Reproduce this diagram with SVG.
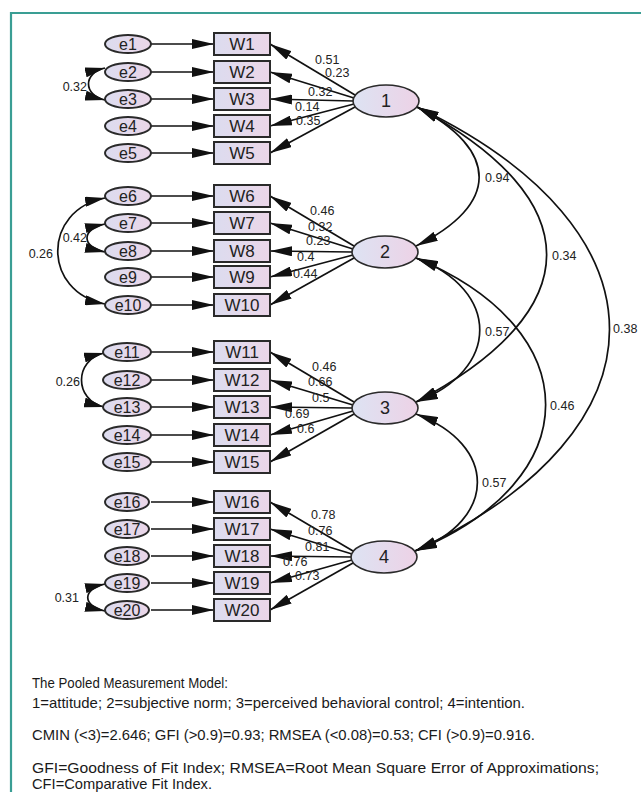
<svg xmlns="http://www.w3.org/2000/svg" width="641" height="792" viewBox="0 0 641 792">
<defs>
<linearGradient id="gBox" x1="0" y1="0" x2="1" y2="0"><stop offset="0" stop-color="#dcdcef"/><stop offset="1" stop-color="#ebd6e8"/></linearGradient>
<linearGradient id="gLat" x1="0" y1="0" x2="1" y2="0"><stop offset="0" stop-color="#dde3f3"/><stop offset="1" stop-color="#edd2e6"/></linearGradient>
<marker id="ah" markerUnits="userSpaceOnUse" markerWidth="22" markerHeight="10" viewBox="0 0 22 10" refX="22" refY="5" orient="auto-start-reverse"><path d="M0,0 L22,5 L0,10 z" fill="#111"/></marker>
<marker id="as" markerUnits="userSpaceOnUse" markerWidth="20" markerHeight="10" viewBox="0 0 20 10" refX="20" refY="5" orient="auto-start-reverse"><path d="M0,0 L20,5 L0,10 z" fill="#111"/></marker>
</defs>
<style>
.box{fill:url(#gBox);stroke:#2a2a2a;stroke-width:2}
.err{fill:url(#gBox);stroke:#2a2a2a;stroke-width:2}
.lat{fill:url(#gLat);stroke:#2a2a2a;stroke-width:1.6}
.bt{font-family:'Liberation Sans',Arial,sans-serif;font-size:17px;fill:#222;text-anchor:middle}
.et{font-family:'Liberation Sans',Arial,sans-serif;font-size:16px;fill:#222;text-anchor:middle}
.lt{font-family:'Liberation Sans',Arial,sans-serif;font-size:18px;fill:#222;text-anchor:middle}
.n{font-family:'Liberation Sans',Arial,sans-serif;font-size:12.5px;fill:#222}
.ne{font-family:'Liberation Sans',Arial,sans-serif;font-size:12.5px;fill:#222;text-anchor:end}
.cap{font-family:'Liberation Sans',Arial,sans-serif;font-size:14.5px;fill:#1a1a1a}
.c{fill:none;stroke:#111;stroke-width:1.7}
.ea{marker-end:url(#ah)}
.bb{marker-start:url(#as);marker-end:url(#as)}
.bl{marker-start:url(#ah);marker-end:url(#ah)}
</style>
<rect x="0" y="0" width="641" height="792" fill="#fff"/>
<path d="M11,792 L11,13 L641,13" fill="none" stroke="#3a9e94" stroke-width="2.2"/>

<g id="connectors">
<path class="c ea" d="M151,44 L214,44"/>
<path class="c ea" d="M151,72 L214,72"/>
<path class="c ea" d="M151,99 L214,99"/>
<path class="c ea" d="M151,126 L214,126"/>
<path class="c ea" d="M151,153 L214,153"/>
<path class="c ea" d="M151,196 L214,196"/>
<path class="c ea" d="M151,223 L214,223"/>
<path class="c ea" d="M151,251 L214,251"/>
<path class="c ea" d="M151,277 L214,277"/>
<path class="c ea" d="M151,305 L214,305"/>
<path class="c ea" d="M151,352 L214,352"/>
<path class="c ea" d="M151,380 L214,380"/>
<path class="c ea" d="M151,407 L214,407"/>
<path class="c ea" d="M151,435 L214,435"/>
<path class="c ea" d="M151,462 L214,462"/>
<path class="c ea" d="M151,502 L214,502"/>
<path class="c ea" d="M151,529 L214,529"/>
<path class="c ea" d="M151,556 L214,556"/>
<path class="c ea" d="M151,583 L214,583"/>
<path class="c ea" d="M151,610 L214,610"/>
<path class="c ea" d="M355,95 L270,44"/>
<path class="c ea" d="M354,98 L270,72"/>
<path class="c ea" d="M353,101 L270,99"/>
<path class="c ea" d="M354,104 L270,126"/>
<path class="c ea" d="M355,107 L270,153"/>
<path class="c ea" d="M354,246 L270,196"/>
<path class="c ea" d="M353,249 L270,223"/>
<path class="c ea" d="M352,252 L270,251"/>
<path class="c ea" d="M353,255 L270,277"/>
<path class="c ea" d="M354,258 L270,305"/>
<path class="c ea" d="M354,402 L270,352"/>
<path class="c ea" d="M353,405 L270,380"/>
<path class="c ea" d="M352,408 L270,407"/>
<path class="c ea" d="M353,411 L270,435"/>
<path class="c ea" d="M354,414 L270,462"/>
<path class="c ea" d="M353,551 L270,502"/>
<path class="c ea" d="M352,554 L270,529"/>
<path class="c ea" d="M351,557 L270,556"/>
<path class="c ea" d="M352,560 L270,583"/>
<path class="c ea" d="M353,563 L270,610"/>
<path class="c bb" d="M105,68 C83,73 83,95 105,100"/>
<path class="c bb" d="M105,224 C81,229 81,247 105,252"/>
<path class="c bb" d="M105,198 C42,210 42,292 105,304"/>
<path class="c bb" d="M104,353 C74,360 74,400 104,407"/>
<path class="c bb" d="M105,584 C82,589 82,606 105,611"/>
<path class="c bl" d="M417,107 C500,150 500,205 416,246"/>
<path class="c bl" d="M417,107 C590,200 590,310 416,402"/>
<path class="c bl" d="M417,107 C674,230 674,430 415,551"/>
<path class="c bl" d="M416,258 C501,290 501,370 416,402"/>
<path class="c bl" d="M416,258 C589,330 589,480 415,551"/>
<path class="c bl" d="M416,414 C498,445 498,520 415,551"/>
</g>

<g id="labels">
<text class="n" x="315" y="64">0.51</text>
<text class="n" x="325" y="77">0.23</text>
<text class="n" x="308" y="96">0.32</text>
<text class="n" x="295" y="111">0.14</text>
<text class="n" x="296" y="125">0.35</text>
<text class="n" x="310" y="215">0.46</text>
<text class="n" x="308" y="231">0.32</text>
<text class="n" x="306" y="245">0.23</text>
<text class="n" x="297" y="261">0.4</text>
<text class="n" x="293" y="278">0.44</text>
<text class="n" x="312" y="371">0.46</text>
<text class="n" x="308" y="386">0.66</text>
<text class="n" x="312" y="402">0.5</text>
<text class="n" x="285" y="418">0.69</text>
<text class="n" x="297" y="433">0.6</text>
<text class="n" x="311" y="519">0.78</text>
<text class="n" x="308" y="535">0.76</text>
<text class="n" x="305" y="551">0.81</text>
<text class="n" x="283" y="566">0.76</text>
<text class="n" x="295" y="580">0.73</text>
<text class="n" x="485" y="182">0.94</text>
<text class="n" x="552" y="260">0.34</text>
<text class="n" x="613" y="333">0.38</text>
<text class="n" x="485" y="336">0.57</text>
<text class="n" x="550" y="410">0.46</text>
<text class="n" x="482" y="487">0.57</text>
<text class="ne" x="87" y="91">0.32</text>
<text class="ne" x="87" y="242">0.42</text>
<text class="ne" x="53" y="258">0.26</text>
<text class="ne" x="80" y="386">0.26</text>
<text class="ne" x="79" y="602">0.31</text>
</g>

<g id="e1"><ellipse class="err" cx="128" cy="44" rx="23" ry="9"/><text class="et" x="128" y="50">e1</text></g>
<g id="e2"><ellipse class="err" cx="128" cy="72" rx="23" ry="9"/><text class="et" x="128" y="78">e2</text></g>
<g id="e3"><ellipse class="err" cx="128" cy="99" rx="23" ry="9"/><text class="et" x="128" y="105">e3</text></g>
<g id="e4"><ellipse class="err" cx="128" cy="126" rx="23" ry="9"/><text class="et" x="128" y="132">e4</text></g>
<g id="e5"><ellipse class="err" cx="128" cy="153" rx="23" ry="9"/><text class="et" x="128" y="159">e5</text></g>
<g id="e6"><ellipse class="err" cx="128" cy="196" rx="23" ry="9"/><text class="et" x="128" y="202">e6</text></g>
<g id="e7"><ellipse class="err" cx="128" cy="223" rx="23" ry="9"/><text class="et" x="128" y="229">e7</text></g>
<g id="e8"><ellipse class="err" cx="128" cy="251" rx="23" ry="9"/><text class="et" x="128" y="257">e8</text></g>
<g id="e9"><ellipse class="err" cx="128" cy="277" rx="23" ry="9"/><text class="et" x="128" y="283">e9</text></g>
<g id="e10"><ellipse class="err" cx="128" cy="305" rx="23" ry="9"/><text class="et" x="128" y="311">e10</text></g>
<g id="e11"><ellipse class="err" cx="127" cy="352" rx="24" ry="9"/><text class="et" x="127" y="358">e11</text></g>
<g id="e12"><ellipse class="err" cx="127" cy="380" rx="24" ry="9"/><text class="et" x="127" y="386">e12</text></g>
<g id="e13"><ellipse class="err" cx="127" cy="407" rx="24" ry="9"/><text class="et" x="127" y="413">e13</text></g>
<g id="e14"><ellipse class="err" cx="127" cy="435" rx="24" ry="9"/><text class="et" x="127" y="441">e14</text></g>
<g id="e15"><ellipse class="err" cx="127" cy="462" rx="24" ry="9"/><text class="et" x="127" y="468">e15</text></g>
<g id="e16"><ellipse class="err" cx="127" cy="502" rx="22" ry="9"/><text class="et" x="127" y="508">e16</text></g>
<g id="e17"><ellipse class="err" cx="127" cy="529" rx="22" ry="9"/><text class="et" x="127" y="535">e17</text></g>
<g id="e18"><ellipse class="err" cx="127" cy="556" rx="22" ry="9"/><text class="et" x="127" y="562">e18</text></g>
<g id="e19"><ellipse class="err" cx="127" cy="583" rx="22" ry="9"/><text class="et" x="127" y="589">e19</text></g>
<g id="e20"><ellipse class="err" cx="127" cy="610" rx="22" ry="9"/><text class="et" x="127" y="616">e20</text></g>

<g id="W1"><rect class="box" x="214" y="33" width="56" height="22"/><text class="bt" x="242" y="50">W1</text></g>
<g id="W2"><rect class="box" x="214" y="61" width="56" height="22"/><text class="bt" x="242" y="78">W2</text></g>
<g id="W3"><rect class="box" x="214" y="88" width="56" height="22"/><text class="bt" x="242" y="105">W3</text></g>
<g id="W4"><rect class="box" x="214" y="115" width="56" height="22"/><text class="bt" x="242" y="132">W4</text></g>
<g id="W5"><rect class="box" x="214" y="142" width="56" height="22"/><text class="bt" x="242" y="159">W5</text></g>
<g id="W6"><rect class="box" x="214" y="185" width="56" height="22"/><text class="bt" x="242" y="202">W6</text></g>
<g id="W7"><rect class="box" x="214" y="212" width="56" height="22"/><text class="bt" x="242" y="229">W7</text></g>
<g id="W8"><rect class="box" x="214" y="240" width="56" height="22"/><text class="bt" x="242" y="257">W8</text></g>
<g id="W9"><rect class="box" x="214" y="266" width="56" height="22"/><text class="bt" x="242" y="283">W9</text></g>
<g id="W10"><rect class="box" x="214" y="294" width="56" height="22"/><text class="bt" x="242" y="311">W10</text></g>
<g id="W11"><rect class="box" x="214" y="341" width="56" height="22"/><text class="bt" x="242" y="358">W11</text></g>
<g id="W12"><rect class="box" x="214" y="369" width="56" height="22"/><text class="bt" x="242" y="386">W12</text></g>
<g id="W13"><rect class="box" x="214" y="396" width="56" height="22"/><text class="bt" x="242" y="413">W13</text></g>
<g id="W14"><rect class="box" x="214" y="424" width="56" height="22"/><text class="bt" x="242" y="441">W14</text></g>
<g id="W15"><rect class="box" x="214" y="451" width="56" height="22"/><text class="bt" x="242" y="468">W15</text></g>
<g id="W16"><rect class="box" x="214" y="491" width="56" height="22"/><text class="bt" x="242" y="508">W16</text></g>
<g id="W17"><rect class="box" x="214" y="518" width="56" height="22"/><text class="bt" x="242" y="535">W17</text></g>
<g id="W18"><rect class="box" x="214" y="545" width="56" height="22"/><text class="bt" x="242" y="562">W18</text></g>
<g id="W19"><rect class="box" x="214" y="572" width="56" height="22"/><text class="bt" x="242" y="589">W19</text></g>
<g id="W20"><rect class="box" x="214" y="599" width="56" height="22"/><text class="bt" x="242" y="616">W20</text></g>

<g id="F1"><ellipse class="lat" cx="386" cy="101" rx="33" ry="16"/><text class="lt" x="386" y="107">1</text></g>
<g id="F2"><ellipse class="lat" cx="385" cy="252" rx="33" ry="16"/><text class="lt" x="385" y="258">2</text></g>
<g id="F3"><ellipse class="lat" cx="385" cy="408" rx="33" ry="16"/><text class="lt" x="385" y="414">3</text></g>
<g id="F4"><ellipse class="lat" cx="384" cy="557" rx="33" ry="16"/><text class="lt" x="384" y="563">4</text></g>

<g id="caption">
<text class="cap" x="32" y="688" textLength="196" lengthAdjust="spacingAndGlyphs">The Pooled Measurement Model:</text>
<text class="cap" x="32" y="708" textLength="493" lengthAdjust="spacingAndGlyphs">1=attitude; 2=subjective norm; 3=perceived behavioral control; 4=intention.</text>
<text class="cap" x="32" y="740" textLength="503" lengthAdjust="spacingAndGlyphs">CMIN (&lt;3)=2.646; GFI (&gt;0.9)=0.93; RMSEA (&lt;0.08)=0.53; CFI (&gt;0.9)=0.916.</text>
<text class="cap" x="32" y="773" textLength="567" lengthAdjust="spacingAndGlyphs">GFI=Goodness of Fit Index; RMSEA=Root Mean Square Error of Approximations;</text>
<text class="cap" x="32" y="789" textLength="180" lengthAdjust="spacingAndGlyphs">CFI=Comparative Fit Index.</text>
</g>
</svg>
